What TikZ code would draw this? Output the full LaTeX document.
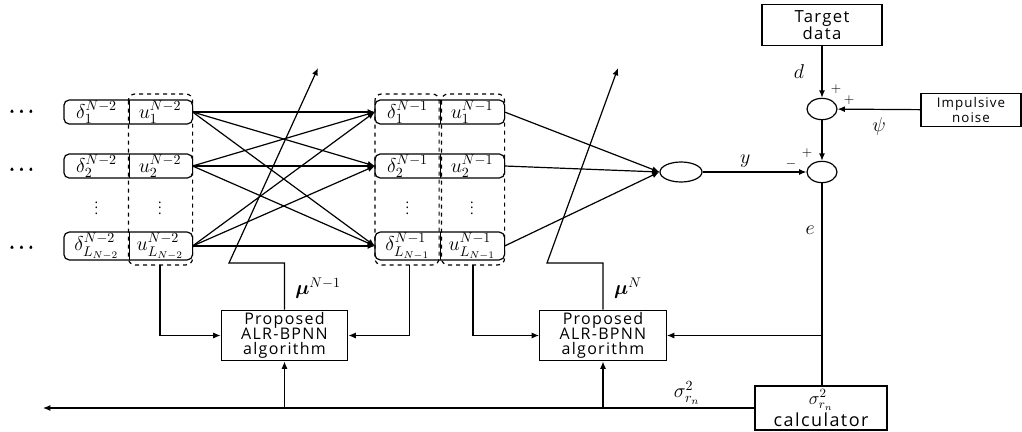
\RequirePackage{fix-cm}
\documentclass[tikz,border=0pt]{standalone}
\usepackage{fontspec}
\setmainfont{Open Sans}
\newfontfamily\boxfont[LetterSpace=8]{Open Sans}
\usepackage{amsmath}
\usetikzlibrary{calc,shapes.geometric,positioning,arrows.meta}

\begin{document}
\begin{tikzpicture}[x=0.75pt,y=-0.75pt,line width=0.9pt,
    arr/.style={-{Latex[length=5.5pt,width=4.5pt]}},
    cell/.style={minimum width=48pt,minimum height=17pt,inner sep=0pt,
      font=\fontsize{15}{15}\selectfont},
    blk/.style={draw,align=center,inner sep=0pt},
    sumnode/.style={draw,ellipse,minimum width=22.5pt,minimum height=16pt,inner sep=0pt},
    colbox/.style={dashed,rounded corners=5pt},
    lbl/.style={font=\fontsize{15}{15}\selectfont,inner sep=1pt}]
  \useasboundingbox (0,0) rectangle (1022,432);

  % Layer N-2 and layer N-1 cells
  \foreach \nm/\yy/\sa/\sb in {1/112/1/1,2/166/2/2,L/246/{L_{N-2}}/{L_{N-1}}}{
    \node[cell] (dA\nm) at (96.5,\yy) {$\delta^{N-2}_{\sa}$};
    \node[cell] (uA\nm) at (160,\yy) {$u^{N-2}_{\sa}$};
    \draw[rounded corners=4pt] (dA\nm.north west) rectangle (uA\nm.south east);
    \draw (dA\nm.north east) -- (dA\nm.south east);
    \node[cell] (dB\nm) at (407.5,\yy) {$\delta^{N-1}_{\sb}$};
    \node[cell] (uB\nm) at (472,\yy) {$u^{N-1}_{\sb}$};
    \draw[rounded corners=4pt] (dB\nm.north west) rectangle (uB\nm.south east);
    \draw (dB\nm.north east) -- (dB\nm.south east);
  }
  \node[font=\fontsize{16}{16}\selectfont] (dots1) at (22,112) {$\pmb{\cdots}$};
  \node[font=\fontsize{16}{16}\selectfont] (dots2) at (22,170) {$\pmb{\cdots}$};
  \node[font=\fontsize{16}{16}\selectfont] (dots3) at (22,248) {$\pmb{\cdots}$};
  \node[inner sep=0pt] (vdA) at (96.5,204) {$\vdots$};
  \node[inner sep=0pt] (vuA) at (160,204) {$\vdots$};
  \node[inner sep=0pt] (vdB) at (407.5,204) {$\vdots$};
  \node[inner sep=0pt] (vuB) at (472,204) {$\vdots$};

  \draw[colbox] ($(uA1.north west)+(1,-6)$) rectangle ($(uAL.south east)+(0,5)$);
  \draw[colbox] ($(dB1.north west)+(0,-6)$) rectangle ($(dBL.south east)+(-1,5)$);
  \draw[colbox] ($(uB1.north west)+(2,-6)$) rectangle ($(uBL.south east)+(0,5)$);

  \foreach \i in {1,2,L}
    \foreach \j in {1,2,L}
      \draw[arr] (uA\i.east) -- (dB\j.west);

  % Output neuron and error
  \node[draw,ellipse,minimum width=31.5pt,minimum height=15pt,inner sep=0pt] (out) at (681,172) {};
  \foreach \i in {1,2,L}
    \draw[arr] (uB\i.east) -- (out.west);
  \node[sumnode] (s1) at (822,109) {};
  \node[sumnode] (s2) at (822,172) {};
  \node[blk,minimum width=90pt,minimum height=31pt,
    font=\boxfont\fontsize{12.5}{12.5}\selectfont] (tgt) at (822,25) {Target\\data};
  \node[blk,minimum width=75pt,minimum height=25pt,
    font=\boxfont\fontsize{10}{9.5}\selectfont] (imp) at (971,110) {Impulsive\\noise};
  \node[blk,minimum width=99pt,minimum height=33pt,
    font=\boxfont\fontsize{13.5}{16.5}\selectfont] (calc) at (821,408) {$\sigma^2_{r_n}$\\calculator};
  \node[blk,minimum width=95pt,minimum height=38pt,
    font=\boxfont\fontsize{12}{11.5}\selectfont] (alg1) at (284.5,335.5) {Proposed\\ALR-BPNN\\algorithm};
  \node[blk,minimum width=95pt,minimum height=38pt,
    font=\boxfont\fontsize{12}{11.5}\selectfont] (alg2) at (603,335.5) {Proposed\\ALR-BPNN\\algorithm};

  \draw[arr] (tgt) -- node[lbl,left=12pt] {$d$} (s1);
  \draw[arr] (imp) -- node[lbl,below=5pt] {$\psi$} (s1);
  \draw[arr] (s1) -- (s2);
  \draw[arr] (out) -- node[lbl,pos=0.41,above=2pt] {$y$} (s2);
  \node (pl1) at (836,89) {$+$};
  \node (pl2) at (849,100) {$+$};
  \node (pl3) at (807,153) {$+$};
  \node (mn1) at (791,164) {$-$};

  \draw (s2) -- node[lbl,pos=0.23,left=4pt] {$e$} (s2 |- calc.north);
  \draw[arr] (s2.south |- alg2.east) -- (alg2.east);

  % Variance feedback
  \coordinate (lft) at (43,408);
  \draw[arr] (calc.west) -- node[lbl,pos=0.095,above=1pt] {$\sigma^2_{r_n}$} (lft);
  \draw[arr] (alg1.south |- calc.west) -- (alg1.south);
  \draw[arr] (alg2.south |- calc.west) -- (alg2.south);

  % Step-size updates
  \coordinate (k1) at (229,263);
  \coordinate (t1) at (318,68);
  \coordinate (k2) at (547,263);
  \coordinate (t2) at (618,68);
  \draw[arr] (alg1.north) |- (k1) -- (t1);
  \draw[arr] (alg2.north) |- (k2) -- (t2);
  \node[lbl] (mu1) at (318,288) {$\boldsymbol{\mu}^{N-1}$};
  \node[lbl] (mu2) at (628,288) {$\boldsymbol{\mu}^{N}$};

  \draw[arr] ($(uAL.south)+(0,5)$) |- (alg1.west);
  \draw[arr] ($(dBL.south)+(2,5)$) |- (alg1.east);
  \draw[arr] ($(uBL.south)+(1,5)$) |- (alg2.west);
\end{tikzpicture}
\end{document}
